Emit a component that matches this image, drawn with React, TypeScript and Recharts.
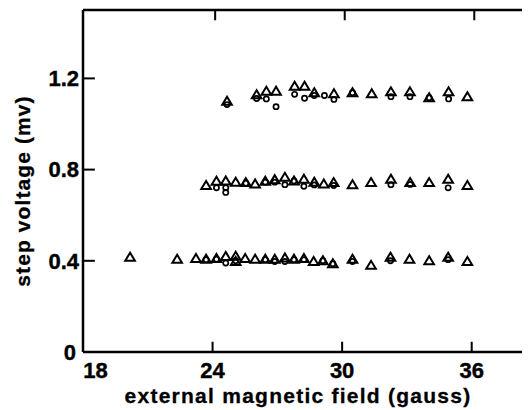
import React from 'react';
import { ScatterChart, Scatter, XAxis, YAxis, ReferenceLine } from 'recharts';

// Triangle series (x in gauss, y in mV)
const triX = [20.18, 22.36, 23.23, 23.7, 24.18, 24.61, 25.07, 25.07, 25.51, 25.97, 26.44, 26.88, 27.35, 27.77, 28.23, 28.68, 29.11, 29.57, 30.48, 31.34, 32.24, 33.12, 34.03, 34.91, 35.8,
  23.7, 24.18, 24.61, 25.07, 25.54, 25.97, 26.44, 26.88, 27.35, 27.77, 28.23, 28.71, 29.15, 29.61, 30.48, 31.34, 32.26, 33.15, 34.03, 34.91, 35.8,
  24.67, 26.04, 26.49, 26.94, 27.8, 28.26, 28.71, 29.62, 30.48, 31.37, 32.26, 33.14, 34.03, 34.93, 35.8];
const triY = [0.416, 0.407, 0.41, 0.407, 0.41, 0.419, 0.42, 0.397, 0.41, 0.407, 0.407, 0.407, 0.412, 0.407, 0.41, 0.397, 0.4, 0.387, 0.407, 0.38, 0.416, 0.407, 0.4, 0.416, 0.397,
  0.73, 0.749, 0.75, 0.745, 0.743, 0.737, 0.749, 0.756, 0.766, 0.75, 0.758, 0.745, 0.737, 0.743, 0.734, 0.743, 0.758, 0.743, 0.743, 0.758, 0.73,
  1.1, 1.128, 1.144, 1.144, 1.166, 1.166, 1.137, 1.133, 1.137, 1.133, 1.141, 1.141, 1.115, 1.141, 1.12];

// Circle series
const cirX = [23.7, 24.18, 24.61, 25.07, 26.44, 26.88, 27.35, 27.77, 28.23, 29.11, 29.57, 30.48, 32.24, 34.91,
  24.18, 24.61, 24.61, 25.54, 26.44, 26.88, 27.35, 27.77, 28.23, 28.71, 29.61, 32.26, 33.15, 34.91,
  24.67, 26.04, 26.49, 26.94, 27.8, 28.26, 28.71, 29.18, 29.62, 30.48, 32.26, 33.14, 34.03, 34.93];
const cirY = [0.405, 0.407, 0.39, 0.4, 0.405, 0.397, 0.397, 0.405, 0.405, 0.4, 0.387, 0.397, 0.4, 0.405,
  0.72, 0.72, 0.7, 0.74, 0.745, 0.745, 0.734, 0.75, 0.727, 0.733, 0.73, 0.734, 0.735, 0.72,
  1.085, 1.112, 1.11, 1.076, 1.13, 1.113, 1.125, 1.125, 1.108, 1.137, 1.12, 1.12, 1.115, 1.11];

const xTicks = [18, 24, 30, 36];
const yTicks = [0, 0.4, 0.8, 1.2];
const innerTicks = [24, 30, 36];
const sideTicks = [0.4, 0.8, 1.2];

const triData = triX.map((x, i) => ({ x, y: triY[i] }));
const cirData = cirX.map((x, i) => ({ x, y: cirY[i] }));

const FONT = '"Liberation Sans", Arial, sans-serif';

const Tri = (p: any) => {
  const { cx, cy } = p;
  if (cx == null || cy == null) return null;
  return (
    <polygon
      points={`${cx},${cy - 4.5} ${cx - 4.8},${cy + 3.5} ${cx + 4.8},${cy + 3.5}`}
      fill="none"
      stroke="#000"
      strokeWidth={2}
    />
  );
};

const Cir = (p: any) => {
  const { cx, cy } = p;
  if (cx == null || cy == null) return null;
  return <circle cx={cx} cy={cy} r={2.6} fill="none" stroke="#000" strokeWidth={1.7} />;
};

const XTick = (p: any) => {
  const { x, y, payload } = p;
  const v = payload.value;
  const shift = v === 18 ? 12.5 : 0;
  return (
    <text x={x + shift} y={y} dy="0.71em" textAnchor="middle" fontFamily={FONT} fontWeight="bold" fontSize={22} fill="#000" stroke="#000" strokeWidth={0.4}>
      {v}
    </text>
  );
};

const YTick = (p: any) => {
  const { x, y, payload } = p;
  const v = payload.value;
  const label = v === 0 ? '0' : v.toFixed(1);
  const shift = v === 0 ? -3 : 0;
  return (
    <text x={x + shift} y={y} dy="0.355em" textAnchor="end" fontFamily={FONT} fontWeight="bold" fontSize={22} fill="#000" stroke="#000" strokeWidth={0.4}>
      {label}
    </text>
  );
};

export default function App() {
  return (
    <div style={{ width: 522, height: 402, position: 'relative', overflow: 'hidden' }}>
      <ScatterChart width={522} height={402} margin={{ top: 2, right: 0, bottom: 0, left: 0 }}>
        <XAxis
          type="number"
          dataKey="x"
          domain={[18, 38.7]}
          ticks={xTicks}
          tickLine={false}
          tickSize={0}
          tickMargin={10}
          axisLine={{ stroke: '#000', strokeWidth: 2.5 }}
          tick={<XTick />}
          allowDataOverflow
          height={58}
        />
        <YAxis
          type="number"
          dataKey="y"
          domain={[0, 1.5]}
          ticks={yTicks}
          tickLine={false}
          tickSize={0}
          tickMargin={4}
          axisLine={{ stroke: '#000', strokeWidth: 2.5 }}
          tick={<YTick />}
          width={75}
          allowDataOverflow
        />
        <ReferenceLine y={1.5} stroke="#000" strokeWidth={2.5} />
        {innerTicks.map((t) => (
          <ReferenceLine key={'b' + t} segment={[{ x: t, y: 0 }, { x: t, y: 0.045 }]} stroke="#000" strokeWidth={2} />
        ))}
        {innerTicks.map((t) => (
          <ReferenceLine key={'t' + t} segment={[{ x: t + 0.12, y: 1.5 }, { x: t + 0.12, y: 1.455 }]} stroke="#000" strokeWidth={2} />
        ))}
        {sideTicks.map((t) => (
          <ReferenceLine key={'l' + t} segment={[{ x: 18, y: t }, { x: 18.55, y: t }]} stroke="#000" strokeWidth={2} />
        ))}
        {[0.4, 1.2].map((t) => (
          <ReferenceLine key={'r' + t} segment={[{ x: 38.6, y: t }, { x: 38.7, y: t }]} stroke="#000" strokeWidth={1.5} />
        ))}
        <Scatter data={triData} shape={<Tri />} isAnimationActive={false} />
        <Scatter data={cirData} shape={<Cir />} isAnimationActive={false} />
        <text x={22} y={183} transform="rotate(-90, 22, 183)" textAnchor="middle" fontFamily={FONT} fontWeight="bold" fontSize={21} letterSpacing={1.1} fill="#000" stroke="#000" strokeWidth={0.3}>
          step voltage (mv)
        </text>
        <text x={290} y={395} textAnchor="middle" fontFamily={FONT} fontWeight="bold" fontSize={21} letterSpacing={1.25} fill="#000" stroke="#000" strokeWidth={0.3}>
          external magnetic field (gauss)
        </text>
      </ScatterChart>
    </div>
  );
}
